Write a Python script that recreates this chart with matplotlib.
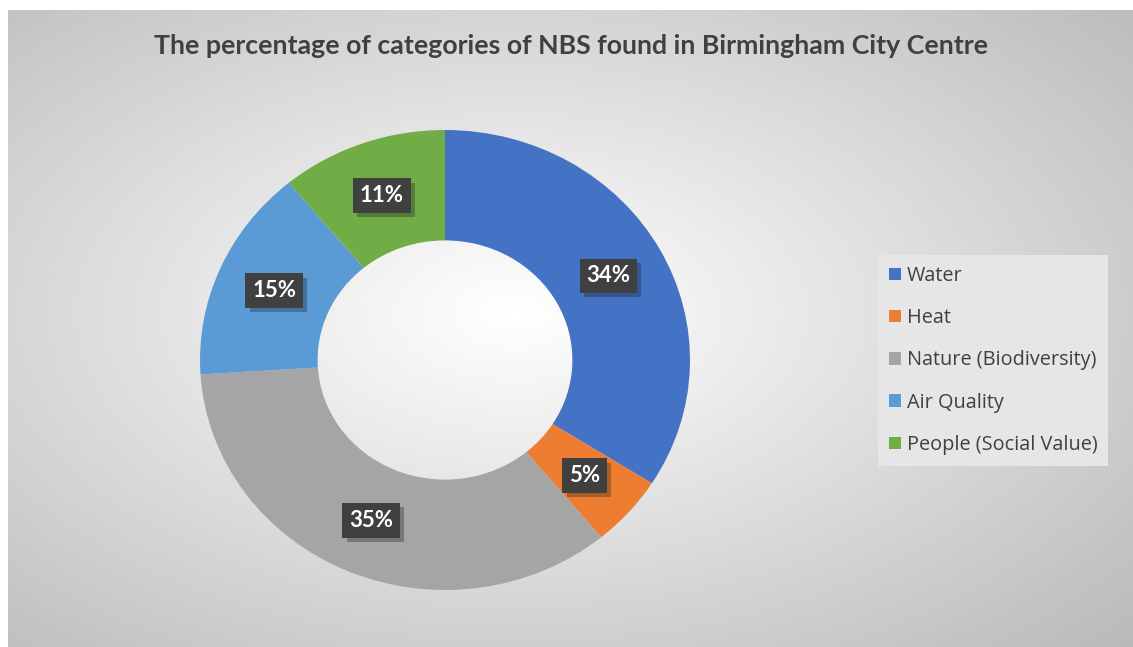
"""Donut chart: categories of NBS found in Birmingham City Centre."""
import numpy as np
import matplotlib
matplotlib.use("Agg")
from matplotlib import pyplot as plt
from matplotlib import patheffects

categories = ["Water", "Heat", "Nature (Biodiversity)", "Air Quality", "People (Social Value)"]
shares = [34, 5, 35, 15, 11]
colors = ["#4472C4", "#ED7D31", "#A5A5A5", "#5B9BD5", "#70AD47"]
title = "The percentage of categories of NBS found in Birmingham City Centre"

W, H = 1133, 647
fig = plt.figure(figsize=(W / 100, H / 100), dpi=100)
fig.patch.set_facecolor("white")


def px(left, top, right, bottom):
    """Pixel box -> figure fraction rect."""
    return [left / W, 1 - bottom / H, (right - left) / W, (bottom - top) / H]


# radial grey gradient background
bg = fig.add_axes(px(8, 10, W, H))
yy, xx = np.mgrid[-1:1:300j, -1:1:500j]
dist = np.sqrt((xx + 0.1) ** 2 + (yy + 0.05) ** 2)
shade = np.clip(1.0 - 0.18 * dist, 0, 1)
bg.imshow(shade, cmap="gray", vmin=0, vmax=1, aspect="auto", extent=[0, 1, 0, 1])
bg.set_axis_off()

fig.text(571 / W, 1 - 46 / H, title, ha="center", va="center",
         fontsize=19.3, fontweight="bold", color="#404040", family="Lato")

ax = fig.add_axes(px(200, 130, 690, 590))
wedges, _ = ax.pie(shares, colors=colors, startangle=90, counterclock=False,
                   wedgeprops=dict(width=0.48, linewidth=0))
ax.set_aspect("auto")
ax.set_xlim(-1, 1)
ax.set_ylim(-1, 1)

for w, v in zip(wedges, shares):
    ang = np.deg2rad((w.theta1 + w.theta2) / 2)
    r = 0.76
    t = ax.text(r * np.cos(ang), r * np.sin(ang), f"{v}%", ha="center", va="center",
                fontsize=16, fontweight="bold", color="white", family="Lato",
                bbox=dict(boxstyle="square,pad=0.3", fc="#404040", ec="none"))
    t.get_bbox_patch().set_path_effects(
        [patheffects.withSimplePatchShadow(offset=(3, -3), alpha=0.3)])

leg = fig.legend(wedges, categories, loc="upper left",
                 bbox_to_anchor=(878 / W, 1 - 255 / H), frameon=True, fancybox=False,
                 labelcolor="#404040", handlelength=0.6, handleheight=0.6,
                 handletextpad=0.3, labelspacing=1.12, borderpad=0.55, borderaxespad=0,
                 prop=dict(family="Open Sans", size=14.3))
leg.get_frame().set_facecolor("#e6e6e6")
leg.get_frame().set_edgecolor("none")
leg.get_frame().set_alpha(1)

fig.savefig("out.png", dpi=100)
